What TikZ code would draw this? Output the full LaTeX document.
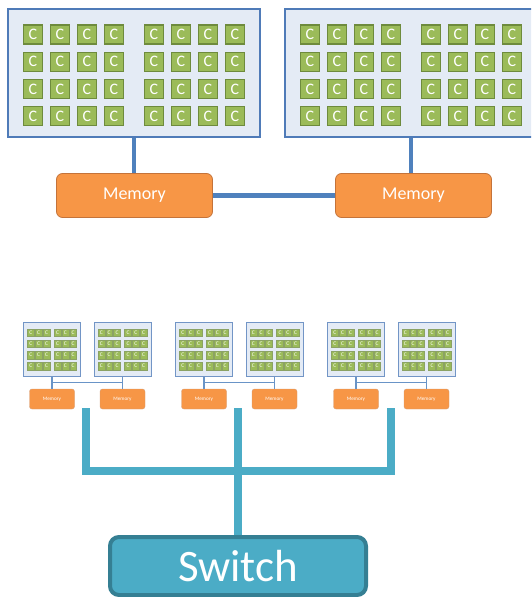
\documentclass[tikz,border=0pt]{standalone}
\usepackage{fontspec}
\setmainfont{Carlito}
\definecolor{chipfill}{HTML}{E4EBF5}
\definecolor{chipline}{HTML}{4F7BB8}
\definecolor{corefill}{HTML}{9BBB59}
\definecolor{coreline}{HTML}{6E8B3D}
\definecolor{memfill}{HTML}{F79646}
\definecolor{memline}{HTML}{C4733A}
\definecolor{linkblue}{HTML}{4F81BD}
\definecolor{trunkteal}{HTML}{4BACC6}
\definecolor{switchline}{HTML}{357F93}
\begin{document}
\begin{tikzpicture}[x=1pt,y=-1pt,
  bigchip/.style={draw=chipline,fill=chipfill,line width=2pt,minimum width=252pt,minimum height=128pt,inner sep=0pt},
  bigcore/.style={draw=coreline,fill=corefill,line width=1.1pt,minimum size=19pt,inner sep=0pt,text=white,font=\fontsize{16}{16}\selectfont},
  bigmem/.style={draw=memline,fill=memfill,line width=0.8pt,rounded corners=6pt,minimum width=156pt,minimum height=44pt,inner sep=0pt,text=white,font=\fontsize{18}{18}\selectfont},
  smallchip/.style={draw=chipline!80,fill=chipfill,line width=1pt,minimum width=57pt,minimum height=54pt,inner sep=0pt},
  smallcore/.style={draw=coreline!80,fill=corefill,line width=0.4pt,minimum width=6.8pt,minimum height=7.4pt,inner sep=0pt,text=white,font=\fontsize{5.5}{5.5}\selectfont},
  smallmem/.style={draw=memline!70,fill=memfill,line width=0.4pt,rounded corners=2.5pt,minimum width=45pt,minimum height=20pt,inner sep=0pt,text=white,font=\fontsize{5.2}{5.2}\selectfont},
  link/.style={draw=linkblue,line width=4.5pt},
  thinlink/.style={draw=linkblue!85,line width=1.8pt},
  trunk/.style={draw=trunkteal,line width=8pt,line join=miter},
  switchbox/.style={draw=switchline,fill=trunkteal,line width=4pt,rounded corners=9pt,minimum width=256pt,minimum height=58pt,inner sep=0pt,text=white,font=\fontsize{45}{45}\selectfont}]
\useasboundingbox (0,0) rectangle (531,597);
\clip (0,0) rectangle (531,597);

% two large processors, 4 x 8 cores each
\foreach \b/\cx in {1/134,2/411} {
  \node[bigchip] (big\b) at (\cx,73) {};
  \foreach \r in {0,...,3} {
    \foreach \c/\dx in {0/-101,1/-74,2/-47,3/-20,4/20,5/47,6/74,7/101} {
      \node[bigcore] (big\b-\r-\c) at ({\cx+\dx},{34.5+27.2*\r}) {C};
    }
  }
}
\node[bigmem] (mem1) at (134.5,195.5) {Memory};
\node[bigmem] (mem2) at (413.5,195.5) {Memory};
\draw[link] (big1.south) -- (big1.south |- mem1.north);
\draw[link] (big2.south) -- (big2.south |- mem2.north);
\draw[link] (mem1.east) -- (mem2.west);

% three small two-socket nodes, 4 x 6 cores each
\foreach \p in {0,1,2} {
  \foreach \k/\dx in {1/0,2/70.5} {
    \node[smallchip] (s\p\k) at ({52+152*\p+\dx},349.5) {};
    \foreach \r in {0,...,3} {
      \foreach \c/\ex in {0/-21.1,1/-13.3,2/-5.5,3/5.5,4/13.3,5/21.1} {
        \node[smallcore] (s\p\k-\r-\c) at ({52+152*\p+\dx+\ex},{332.8+11.1*\r}) {C};
      }
    }
    \node[smallmem] (sm\p\k) at ({52+152*\p+\dx},399) {Memory};
    \draw[thinlink] (s\p\k.south) -- (sm\p\k.north);
    \path (s\p\k.south) ++(0,5.5) coordinate (h\p\k);
  }
  \draw[thinlink] (h\p1) -- (h\p2);
}

% interconnect to the switch
\node[switchbox] (switch) at (238,566) {Switch};
\coordinate (t1) at (86,408);
\coordinate (t2) at (238,408);
\coordinate (t3) at (391,408);
\coordinate (c1) at (86,471);
\coordinate (c3) at (391,471);
\draw[trunk] (t1) -- (c1) -- (c3) -- (t3);
\draw[trunk] (t2) -- (switch.north);
\end{tikzpicture}
\end{document}
